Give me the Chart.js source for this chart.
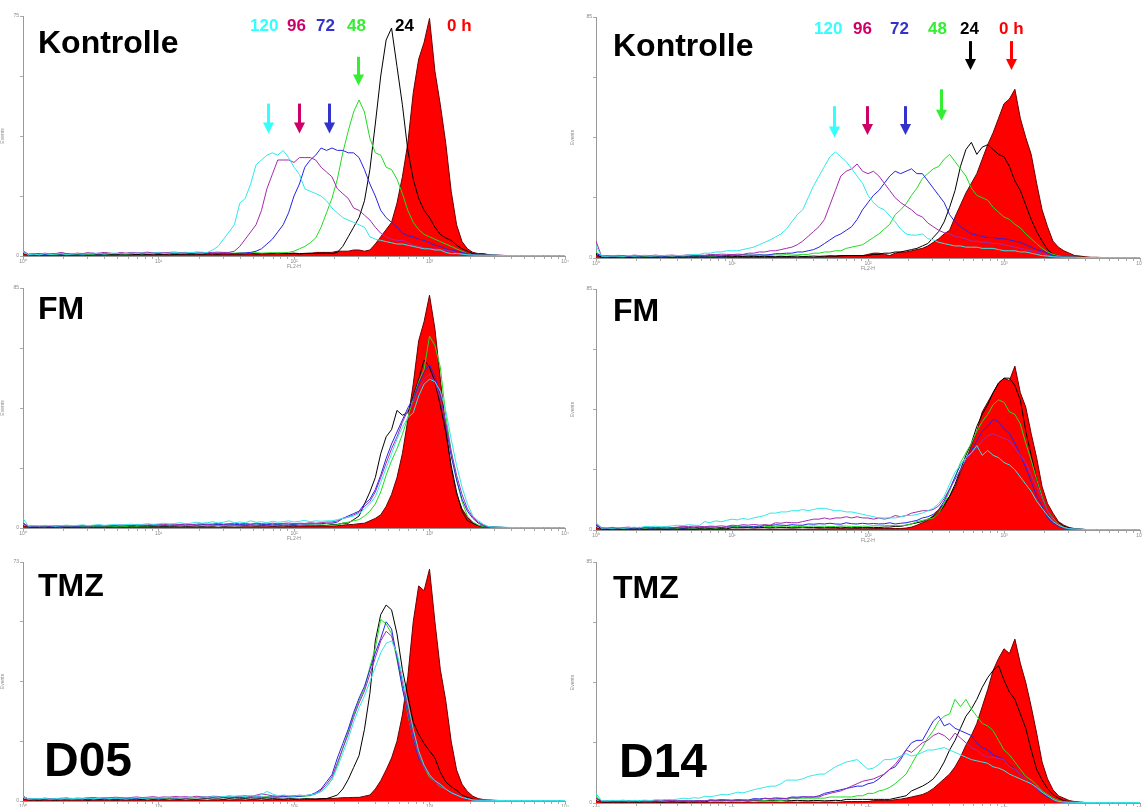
<!DOCTYPE html>
<html>
<head>
<meta charset="utf-8">
<script src="https://cdn.jsdelivr.net/npm/chart.js@4.4.1/dist/chart.umd.min.js"></script>
<style>
  html, body { margin: 0; padding: 0; background: #fff; overflow: hidden; }
  body { width: 1142px; height: 807px; position: relative; font-family: "Liberation Sans", Arial, sans-serif; }
  canvas { position: absolute; }
  .lbl { position: absolute; font-weight: bold; line-height: 1; white-space: nowrap; }
</style>
</head>
<body>
<script>
// histogram channels: one value every BIN decades of FL2-H, 0 .. 4 decades
const BIN = 0.04;
const xTickLabels = ["10⁰", "10¹", "10²", "10³", "10⁴"];
const timeLabels = ["120", "96", "72", "48", "24", "0 h"];
const panelNames = ["Kontrolle", "Kontrolle", "FM", "FM", "TMZ", "TMZ"];
const lineNames = ["D05", "D14"];
const yTopLabels = ["75", "85", "85", "85", "73", "85"];

// ---- Kontrolle, D05 ----
const tlCyan = [2,0.5,0.8,0.5,1,0.6,0.8,1,0.6,0.8, 1,0.7,1,0.8,1.2,0.8,1,1.2,0.9,1, 1.2,1,1.3,1,1.2,1.4,1,1.2,1.5,1.2, 1.3,1.5,1.4,1.2,1.5,2.5,4,7,10,13, 22,24,30,38,40,42,43,42,44,41, 37,34,28,27,26,25,23,20,18,16, 15,14,13,12,8,7,6.5,6,5.5,5, 5,4.5,4,3.5,3,3,2.5,2.5,1.5,1, 1,0.8,0.5,0.4,0.3,0.3,0.3,0.3,0.2,0.2, 0.2,0.2,0.2,0.2,0.2,0.2,0.2,0.2,0.2,0.2,0.2];
const tlMagenta = [2,0.8,1,0.6,1.2,0.8,1,1.5,1,0.8, 1.2,1,1.4,1,1.2,1.5,1.2,1,1.4,1.2, 1.5,1.2,1.4,1.6,1.2,1.5,1.3,1.5,1.6,1.4, 1.5,1.4,1.6,1.5,1.4,1.5,1.6,1.5,1.5,2, 4,7,10,13,19,28,34,40,40,40, 39,41,41,41,40,37,35,33,28,26, 24,20,19,17,15,12,9.5,8,7,6.5, 6.5,5.5,4.5,4,3.5,3,3,2.5,2.5,2, 1.2,1,0.5,0.4,0.3,0.3,0.3,0.3,0.3,0.2, 0.2,0.2,0.2,0.2,0.2,0.2,0.2,0.2,0.2,0.2,0.2];
const tlBlue = [2,0.6,0.8,1,0.6,0.8,1,0.8,1,0.7, 1,0.8,1,1.2,0.8,1,1.1,0.9,1.2,1, 1,1.2,1,1.1,1.3,1,1.2,1,1.3,1.1, 1.2,1,1.3,1.2,1,1.2,1.1,1.3,1.2,1, 1.2,1.3,1.5,2,3,5,7,10,13,18, 25,30,37,40,42,45,44,45,44,44, 43,43,41,36,30,25,19,16,14,12, 9.5,8.5,8,7,6.5,5.5,4.5,4,3,2.5, 2,1.5,1,0.5,0.4,0.3,0.3,0.3,0.2,0.2, 0.2,0.2,0.2,0.2,0.2,0.2,0.2,0.2,0.2,0.2,0.2];
const tlGreen = [2,0.5,0.7,0.5,0.8,0.6,0.7,0.9,0.6,0.8, 0.8,1,0.7,0.9,1,0.8,1,0.9,1.1,0.8, 1,1.1,0.9,1.2,1,1.1,1,1.2,1,1.1, 1.2,1,1.1,1.2,1,1.1,1.2,1.3,1.1,1.2, 1.3,1.2,1.3,1.4,1.2,1.3,1.4,1.3,1.4,1.5, 2,3,4,5.5,7.5,12,18,24,32,43, 52,60,65,60,49,43,42,37,36,32, 26,19,14,11,9,8,7,6,5,4, 3,2,1,0.5,0.4,0.3,0.3,0.3,0.2,0.2, 0.2,0.2,0.2,0.2,0.2,0.2,0.2,0.2,0.2,0.2,0.2];
const tlBlack = [2,0.5,0.6,0.4,0.6,0.5,0.7,0.5,0.6,0.5, 0.6,0.7,0.5,0.6,0.8,0.6,0.7,0.6,0.8,0.7, 0.8,0.6,0.8,0.7,0.9,0.7,0.8,0.9,0.7,0.8, 0.9,0.8,1,0.8,0.9,1,0.8,1,0.9,1, 0.9,1,1.1,0.9,1,1.1,1,1.2,1,1.1, 1.2,1,1.1,1.2,1,1.1,1.2,1,1.5,4, 8,12,16,23,36,55,75,90,95,79, 63,44,32,24,19,16,12,9,7.5,6.5, 4.5,3,2,1,0.5,0.4,0.3,0.3,0.2,0.2, 0.2,0.2,0.2,0.2,0.2,0.2,0.2,0.2,0.2,0.2,0.2];
const tlRed = [1,0.3,0.4,0.3,0.4,0.3,0.4,0.5,0.3,0.4, 0.4,0.5,0.4,0.5,0.4,0.5,0.5,0.4,0.6,0.5, 0.5,0.6,0.5,0.6,0.5,0.6,0.7,0.5,0.6,0.7, 0.6,0.7,0.6,0.7,0.8,0.6,0.7,0.8,0.7,0.8, 0.7,0.8,0.9,0.8,0.9,0.8,1,0.9,1,0.9, 1,0.8,1,1,1.5,1.5,1.5,1.5,2,2, 2,2.5,2.5,2,2.5,5,8,11,14,22, 33,47,68,82,89,99,77,63,47,27, 13,6,3,1.5,1,1,0.5,0.3,0.3,0.2, 0.2,0.2,0.2,0.2,0.2,0.2,0.2,0.2,0.2,0.2,0.2];

// ---- Kontrolle, D14 ----
const trCyan = [5,0.8,0.7,0.9,0.8,0.7,1,0.8,0.9,1, 0.8,1,0.9,1.1,0.9,1,1,1.2,1.5,1.5, 2,2,2.5,2.5,3,3,3,3.5,4,4.5, 5.5,6.5,7.5,8.7,10,12,15,18,20,25, 30,34,38,42,44,42,40,37,34,31, 26,23,21,20,17.5,15,12,10,9.5,9.5, 10,8,7.5,6.5,6,5.5,5,5,4.5,4.5, 4.5,4,4,4,3.5,3,3,3,2.5,2.5, 2,1.5,1,0.8,0.5,0.4,0.3,0.3,0.3,0.2, 0.2,0.2,0.2,0.2,0.2,0.2,0.2,0.2,0.2,0.2,0.2];
const trMagenta = [7,0.8,1,0.9,1.1,1,0.8,1.2,1,1.1, 1,1.2,0.9,1.1,1.2,1,1.1,1.3,1,1.2, 1.1,1.5,1.4,1.6,1.5,1.4,1.6,1.5,2,2, 2.5,2.5,3,3,3.5,4,4.5,5.5,7,9, 11,13,16,22,28,34,36,37,39,36, 35,36,34,31,28,25,23,21.5,20,18, 17,14.5,13,11.5,10.5,10,9,8.5,8,7, 7,6.5,6.5,6,6,5.5,5,4.5,4,3.5, 3,2.5,2,1.2,0.7,0.4,0.3,0.3,0.3,0.2, 0.2,0.2,0.2,0.2,0.2,0.2,0.2,0.2,0.2,0.2,0.2];
const trBlue = [2,0.8,0.7,0.9,0.8,1,0.7,0.9,0.8,1, 0.8,0.9,0.7,0.8,1,0.8,0.9,0.8,1,0.9, 0.8,1,0.9,0.8,1,1.2,1.1,1.3,1.2,1.2, 1.3,1.2,1.4,1.8,1.8,2,2,2.5,2.5,3, 3.5,4.5,6,7.5,9,10,11.5,13,16,20, 23,26,28,31,34,36,35,36,37,35, 35,32,29,26,23,18,15,13,11.5,10, 9.5,9,8.5,8.5,8,8,7.5,7,6.5,5.5, 4.5,3.5,3,2,1,0.5,0.4,0.3,0.3,0.2, 0.2,0.2,0.2,0.2,0.2,0.2,0.2,0.2,0.2,0.2,0.2];
const trGreen = [2.5,0.8,0.7,0.9,0.8,0.7,0.9,0.8,1,0.8, 0.9,0.8,1,0.8,0.9,1,0.8,0.9,1,0.9, 1,0.8,0.9,1,1,1.2,1.1,1.3,1.2,1.1, 1.3,1.2,1.1,1.3,1.2,1.4,1.2,1.3,1.5,1.5, 2,2,2.5,2.5,3,3,4,4.5,5,5.5, 7,8.5,10,12,14,18,20,22.5,26,29, 33,35,37,38,41,43,40,37,34,29, 26,25,24,21,19,17,16,14,12.5,10, 8,6,4,2.5,1.5,1,0.5,0.4,0.3,0.3, 0.2,0.2,0.2,0.2,0.2,0.2,0.2,0.2,0.2,0.2,0.2];
const trBlack = [1.5,0.4,0.5,0.4,0.5,0.6,0.4,0.5,0.6,0.5, 0.4,0.5,0.6,0.5,0.4,0.6,0.5,0.6,0.5,0.6, 0.5,0.6,0.5,0.7,0.6,0.5,0.7,0.6,0.5,0.7, 0.6,0.7,0.6,0.5,0.7,0.6,0.7,0.8,0.6,0.7, 0.8,0.7,0.8,0.9,0.8,0.9,1,1,1,1, 1,1.5,1.5,2,2,2.5,2.5,3,3.5,4, 5,6,8.5,11,15,21,28,38,45,48, 43,46,47,45,43,42,38,32,28,22, 16,11,7,3.5,1.5,1,0.5,0.4,0.3,0.3, 0.2,0.2,0.2,0.2,0.2,0.2,0.2,0.2,0.2,0.2,0.2];
const trRed = [1,0.3,0.3,0.2,0.3,0.3,0.2,0.3,0.3,0.3, 0.3,0.2,0.3,0.3,0.3,0.2,0.3,0.3,0.3,0.3, 0.3,0.3,0.3,0.4,0.3,0.3,0.4,0.3,0.4,0.3, 0.4,0.3,0.4,0.4,0.3,0.4,0.4,0.3,0.4,0.4, 0.3,0.5,0.5,0.8,0.8,1,1,1,1,1, 1.5,2,2,1.5,1,2,2.5,2.5,3,3.5, 4,5,6.5,8,10,11.5,17,22,27,31, 35,41,47,52,58,64,66,70,58,50, 43,31,20,13,7,4.5,3,2,1,0.8, 0.5,0.3,0.3,0.2,0.2,0.2,0.2,0.2,0.2,0.2,0.2];

// ---- FM, D05 ----
const mlCyan = [4,0.8,1,0.9,1.1,1,0.8,1,1.2,1, 1.1,1.3,1,1.2,1.4,1.1,1.3,1.5,1.2,1.4, 1.6,1.3,1.5,1.8,1.5,1.7,2,1.6,1.9,2.2, 1.8,2,2.4,2,2.2,2.6,2.1,2.4,3,2.2, 2.5,2.2,3,2.4,2.6,2.2,2.8,2.4,2.6,3, 2.5,2.8,3.2,2.6,3,2.8,3,3,3.5,4, 4.5,5,6,8,10,13,19,25,31,37, 42,46,48,55,60,62,61,57,49,37, 26,17,10,5,3,1.5,0.5,0.4,0.3,0.3, 0.2,0.2,0.2,0.2,0.2,0.2,0.2,0.2,0.2,0.2,0.2];
const mlMagenta = [2,0.8,0.9,0.7,1,0.8,0.9,1,0.8,1, 0.9,1.1,0.8,1,1.2,0.9,1.1,1,1.3,1, 1.2,1.4,1.1,1.3,1.5,1.2,1.4,1.6,1.3,1.5, 1.7,1.4,1.6,1.8,1.5,1.7,1.9,1.6,1.8,2, 1.7,1.9,1.6,2,1.8,1.7,2,1.8,1.9,2.1, 1.8,2,1.9,2.2,2,2.2,2.5,2.5,3,4, 4.5,5.5,6.5,9,11,15,21,27,33,38, 44,49,52,58,62,64,61,54,44,32, 22,14,8,4.5,2.5,1.2,0.4,0.3,0.3,0.2, 0.2,0.2,0.2,0.2,0.2,0.2,0.2,0.2,0.2,0.2,0.2];
const mlBlue = [2,0.6,0.8,0.7,0.9,0.6,0.8,0.7,0.9,0.8, 0.7,0.9,0.8,1,0.8,0.9,1.1,0.9,1,1.2, 1,1.1,1.3,1,1.2,1.4,1.1,1.3,1.2,1.4, 1.3,1.5,1.2,1.4,1.6,1.3,1.5,1.4,1.6,1.5, 1.4,1.6,1.5,1.7,1.5,1.4,1.6,1.5,1.7,1.6, 1.5,1.7,1.6,1.8,1.7,1.8,2,2,2.5,4, 5,6,7,10,12,16,22,29,35,40, 45,50,54,60,65,68,63,55,43,30, 20,12,7,4,2,1,0.4,0.3,0.3,0.2, 0.2,0.2,0.2,0.2,0.2,0.2,0.2,0.2,0.2,0.2,0.2];
const mlGreen = [2,0.5,0.7,0.6,0.5,0.7,0.6,0.5,0.7,0.6, 0.6,0.7,0.5,0.8,0.6,0.7,0.9,0.6,0.8,0.7, 0.9,0.7,1,0.8,1,1.1,0.9,1.1,1,1.2, 1,1.2,1.1,1.3,1.1,1.2,1,1.3,1.2,1.1, 1.2,1.3,1.1,1.2,1.3,1.2,1.1,1.3,1.2,1.2, 1.3,1.1,1.2,1.3,1.2,1.3,1.2,1.2,1.3,2, 2.5,3,3.5,5,7,10,15,22,28,33, 39,46,54,61,66,80,76,67,47,32, 20,11,5,2.5,1.2,0.5,0.4,0.3,0.3,0.2, 0.2,0.2,0.2,0.2,0.2,0.2,0.2,0.2,0.2,0.2,0.2];
const mlBlack = [2,0.4,0.5,0.6,0.4,0.5,0.6,0.5,0.4,0.6, 0.5,0.6,0.5,0.7,0.5,0.6,0.5,0.7,0.6,0.5, 0.7,0.6,0.8,0.6,0.7,0.8,0.6,0.8,0.7,0.9, 0.7,0.8,0.9,0.7,0.9,0.8,1,0.8,0.9,1, 0.9,1,1.1,0.9,1,1.1,1,0.9,1.1,1, 1,1.1,1,1.2,1,1.1,1,1.5,1.5,2, 2,3.5,5,10,15,21,31,38,41,49, 47,48,55,62,70,67,61,51,40,26, 15,7,3,2,1,0.4,0.3,0.3,0.2,0.2, 0.2,0.2,0.2,0.2,0.2,0.2,0.2,0.2,0.2,0.2,0.2];
const mlRed = [1,0.3,0.3,0.2,0.3,0.3,0.2,0.3,0.3,0.2, 0.3,0.3,0.3,0.2,0.3,0.3,0.3,0.3,0.3,0.3, 0.3,0.3,0.4,0.3,0.3,0.4,0.3,0.4,0.3,0.4, 0.3,0.4,0.4,0.3,0.4,0.4,0.3,0.4,0.4,0.4, 0.4,0.5,0.5,0.5,0.5,0.5,0.6,0.5,0.5,0.6, 0.5,0.8,0.8,0.8,0.8,0.8,0.8,0.8,1,1.2, 1.4,1.5,1.8,2,3,4,5.5,9,14,21, 31,45,60,78,86,97,83,62,42,25, 14,8,4.5,2,1,0.7,0.3,0.3,0.2,0.2, 0.2,0.2,0.2,0.2,0.2,0.2,0.2,0.2,0.2,0.2,0.2];

// ---- FM, D14 ----
const mrCyan = [3,0.8,0.9,0.7,1,0.8,0.9,1.2,0.9,1.5, 1.4,1.6,1.3,1.5,1.7,2,1.8,2.2,2,1.9, 3.5,3,3.8,3.4,4,4.5,4.2,4.8,4.4,5, 5.5,6,7,7,7.5,7.5,8,8,8.5,8, 8.5,9,9,8.5,8,8,7.5,7.5,7,6.5, 6,5.5,5,5,5,5,5.5,6,6,6.5, 7,8,9,11,14,19,24,27,30,32, 35,31,33,31,30,28,27,25,22,19, 16,12,9,6,3.5,2,1,0.5,0.4,0.3, 0.2,0.2,0.2,0.2,0.2,0.2,0.2,0.2,0.2,0.2,0.2];
const mrMagenta = [2.5,1,0.8,1.1,0.9,1,1.2,0.9,1.1,1, 1.2,1,1.1,1.3,1,1.2,1.5,1.4,1.6,1.5, 1.4,1.6,1.5,1.7,1.5,2,1.8,2.2,2,2.3, 2,2.2,2,3,2.8,3.2,3,3,3.5,4, 4.5,4.5,5,4.5,5,5,5.5,5,5.5,5, 5,4.5,5,4.5,5,6,5.5,6,7,7.5, 8,8,8.5,10,13,17,21,25,29,32, 34,37,39,40,39,38,37,34,31,28, 23,18,13,8,4,2,1,0.5,0.4,0.3, 0.2,0.2,0.2,0.2,0.2,0.2,0.2,0.2,0.2,0.2,0.2];
const mrBlue = [2,0.8,0.7,0.9,0.8,1,0.7,0.9,0.8,1, 0.8,0.9,1,0.8,0.9,1,0.8,1,0.9,1.2, 1.1,1.3,1.2,1,1.3,1.2,1.1,1.3,1.2,1.4, 1.2,2,1.8,2.2,2,1.9,2.2,2,2,2.5, 2.4,2.6,2.5,2.8,2.5,2.4,3,2.6,2.5,2.8, 2.5,2.7,2.5,2.6,3,2.5,2.8,3,3.5,4, 5,5.5,6.5,8.5,12,17,22,27,30,33, 37,41,43,46,45,42,40,36,31,26, 20,14,10,5,3,1.5,0.8,0.4,0.3,0.3, 0.2,0.2,0.2,0.2,0.2,0.2,0.2,0.2,0.2,0.2,0.2];
const mrGreen = [3,0.8,0.7,0.9,0.8,0.7,0.9,0.8,1,0.8, 0.9,0.8,1,0.7,0.9,0.8,1,0.9,0.8,1, 0.9,1,0.8,1,0.9,1.5,1.4,1.6,1.5,1.4, 1.6,1.5,1.4,1.6,1.5,1.7,1.5,1.4,1.6,1.5, 1.7,1.5,1.6,1.4,1.5,1.7,1.6,1.5,1.4,1.6, 1.5,1.8,1.7,1.8,1.9,1.8,1.8,2,2.5,3.5, 4,4.5,5,7,11,16,22,28,32,36, 41,45,48,52,54,53,49,48,44,36, 29,21,14,8,5,2.5,1.2,0.5,0.4,0.3, 0.2,0.2,0.2,0.2,0.2,0.2,0.2,0.2,0.2,0.2,0.2];
const mrBlack = [2,0.5,0.4,0.6,0.5,0.4,0.6,0.5,0.6,0.4, 0.5,0.6,0.5,0.4,0.6,0.5,0.6,0.5,0.4,0.6, 0.5,0.6,0.5,0.6,0.5,1,0.9,1.1,1,0.9, 1.1,1,0.9,1.2,1,1.1,0.9,1,1.2,1, 1.1,1,0.9,1.1,1,1.2,1,0.9,1.1,1, 1,1.1,1,1.2,1.2,1.5,1.5,2,2.5,3, 3.5,4.5,5.5,7,10,14,19,25,31,36, 43,48,52,57,61,63,63,60,54,41, 31,21,14,8,5,3,1.5,0.8,0.4,0.3, 0.2,0.2,0.2,0.2,0.2,0.2,0.2,0.2,0.2,0.2,0.2];
const mrRed = [1,0.3,0.3,0.2,0.3,0.3,0.2,0.3,0.3,0.3, 0.3,0.2,0.3,0.3,0.3,0.3,0.2,0.3,0.3,0.3, 0.3,0.3,0.3,0.3,0.4,0.3,0.3,0.4,0.3,0.4, 0.4,0.3,0.4,0.4,0.3,0.4,0.4,0.4,0.3,0.4, 0.4,0.5,0.4,0.5,0.5,0.6,0.5,0.5,0.6,0.5, 0.5,0.6,0.6,0.6,0.6,0.6,0.6,0.8,1.2,2, 3,4,6,8.5,11,14,18,24,29,35, 41,49,53,57,61,63,62,68,57,51, 40,30,18,11,7,3.5,2,1,0.6,0.3, 0.2,0.2,0.2,0.2,0.2,0.2,0.2,0.2,0.2,0.2,0.2];

// ---- TMZ, D05 ----
const blCyan = [2,0.8,1,0.9,1.1,0.8,1,1.2,0.9,1, 1.1,0.9,1.2,1,1.1,1.3,1,1.2,1.1,1.3, 1.2,1.4,1.1,1.3,1.5,1.2,1.4,1.6,1.3,1.5, 1.4,1.6,1.3,1.7,1.5,1.8,1.6,1.9,1.7,2, 2.2,1.8,2.4,2,2.6,4,3,2.2,2.5,2.2, 2,2.4,2.2,2.6,3,4,6,9,14,20, 26,33,39,44,50,56,62,66,67,62, 52,41,30,21,15,11,8.5,7,5,3.5, 2.5,1.5,1,0.4,0.3,0.3,0.3,0.2,0.2,0.2, 0.2,0.2,0.2,0.2,0.2,0.2,0.2,0.2,0.2,0.2,0.2];
const blMagenta = [2,0.8,1,0.9,1.2,1,0.9,1.1,1.3,1, 1.2,1.1,1.3,1.5,1.2,1.4,1.3,1.6,1.4,1.3, 1.5,1.7,1.4,1.6,1.8,1.5,1.7,1.6,1.9,1.7, 1.8,1.6,2,1.8,1.7,2,1.9,1.8,2.1,1.9, 2,2.2,1.9,2.4,3,2.6,2.2,2,2.3,2.1, 2.2,2.4,2.3,2.5,3,4.5,7,10,16,22, 28,35,41,46,53,60,67,71,69,61, 50,38,27,19,14,11,8,6.5,5,3.5, 2.5,1.5,1,0.4,0.3,0.3,0.3,0.2,0.2,0.2, 0.2,0.2,0.2,0.2,0.2,0.2,0.2,0.2,0.2,0.2,0.2];
const blBlue = [2,0.8,0.9,0.7,1,0.8,0.9,1,0.8,1.1, 0.9,1,1.2,0.9,1.1,1,1.2,1.1,1.3,1, 1.2,1.1,1.3,1.2,1.4,1.1,1.3,1.5,1.2,1.4, 1.3,1.5,1.4,1.6,1.3,1.5,1.7,1.4,1.6,1.5, 1.4,1.7,1.5,1.8,1.6,1.5,1.8,1.6,2,1.7, 1.8,2,2.2,2.5,3.5,5,8,11,18,24, 30,37,43,48,55,62,68,75,72,60, 47,37,26,18,14,11,8,6.5,5,3.5, 2.5,1.5,1,0.4,0.3,0.3,0.3,0.2,0.2,0.2, 0.2,0.2,0.2,0.2,0.2,0.2,0.2,0.2,0.2,0.2,0.2];
const blGreen = [2,0.6,0.8,0.7,0.9,0.7,0.8,0.6,0.9,0.8, 0.7,0.9,1,0.8,1,0.9,1.1,0.9,1,1.2, 1,1.1,1.3,1,1.2,1.3,1.1,1.4,1.2,1.3, 1.5,1.3,1.4,1.6,1.3,1.5,1.4,1.6,1.5,1.4, 1.6,1.5,1.7,1.5,1.6,1.8,1.5,1.7,1.6,1.8, 1.7,1.9,2,2.2,3,4,6,9,15,22, 29,36,42,47,56,64,76,74,70,59, 48,36,26,19,14,10,8,6,5,3.5, 2.5,1.5,1,0.4,0.3,0.3,0.3,0.2,0.2,0.2, 0.2,0.2,0.2,0.2,0.2,0.2,0.2,0.2,0.2,0.2,0.2];
const blBlack = [2,0.5,0.6,0.5,0.7,0.6,0.5,0.7,0.6,0.8, 0.6,0.7,0.5,0.8,0.6,0.7,0.8,0.6,0.7,0.9, 0.7,0.8,0.6,0.9,0.7,0.8,0.7,0.9,0.8,0.7, 0.9,0.8,0.7,0.9,1,0.8,0.9,0.7,1,0.8, 0.9,1,0.8,0.9,1,0.8,1,0.9,0.8,1, 0.9,0.8,1,0.9,0.8,0.9,1,1.7,2.5,5, 9,14,19,30,45,67,78,82,80,70, 55,44,33,28,24,21,18,12,8,6, 4.5,2.5,1.5,0.8,0.4,0.3,0.3,0.2,0.2,0.2, 0.2,0.2,0.2,0.2,0.2,0.2,0.2,0.2,0.2,0.2,0.2];
const blRed = [1,0.3,0.3,0.2,0.3,0.3,0.2,0.3,0.3,0.3, 0.3,0.3,0.2,0.3,0.3,0.3,0.3,0.2,0.3,0.3, 0.3,0.4,0.3,0.3,0.4,0.3,0.4,0.3,0.4,0.4, 0.3,0.4,0.4,0.4,0.3,0.4,0.4,0.5,0.4,0.4, 0.5,0.4,0.5,0.5,0.4,0.5,0.5,0.6,0.5,0.5, 0.6,0.5,0.6,0.8,0.8,1,1,1,1.2,1.4, 1.4,1.5,1.5,2,2.5,5,8.5,13,18,25, 36,52,75,90,88,97,75,55,42,25, 13,7,4,2,1,0.6,0.3,0.3,0.2,0.2, 0.2,0.2,0.2,0.2,0.2,0.2,0.2,0.2,0.2,0.2,0.2];

// ---- TMZ, D14 ----
const brCyan = [4,1,0.9,1.1,1,1.2,0.9,1.1,1,1.2, 1,1.4,1.3,1.5,1.4,1.6,2,1.8,2.2,2, 2.8,2.6,3,3.5,3.4,3.8,4.5,4.2,4.8,5.5, 6,6.5,7,7,8,9.5,9.5,9.5,10,11, 11.5,12,12,13.5,15,16,17,17.5,18,16, 14,14.5,16,18,18,18.5,19.5,20.5,19.5,20, 21,22,22,22.5,23,22,21,20,19,18, 17.5,17,16.5,15,14.5,13.5,12,11,10,9, 8,6.5,4.5,3,1.5,0.6,0.4,0.3,0.3,0.2, 0.2,0.2,0.2,0.2,0.2,0.2,0.2,0.2,0.2,0.2,0.2];
const brMagenta = [2,0.8,0.9,0.7,1,0.8,0.9,0.7,1,0.8, 0.9,1,0.8,0.9,1,0.8,1,0.9,0.8,1, 0.9,1.2,1.1,1.3,1.2,1.1,1.3,1.2,1.1,1.3, 1.2,2,1.8,2.2,2,1.9,2.2,2,2.5,2.5, 2.5,2.5,3.4,4,4.5,5,6,7,8,9, 9.5,10,11,12,14,16,19,22,21,23, 25,26,28,29,28,26,29,27,25,23, 22,20,19,19,18.5,18,15,14,12,10, 8,6,4.5,3,1.5,0.6,0.4,0.3,0.3,0.2, 0.2,0.2,0.2,0.2,0.2,0.2,0.2,0.2,0.2,0.2,0.2];
const brBlue = [2,0.8,0.7,0.9,0.8,0.7,0.9,0.8,1,0.8, 0.9,0.7,0.8,1,0.8,0.9,0.7,0.9,0.8,1, 0.8,1.2,1.1,1.3,1.2,1.1,1.3,1.2,1.2,1.8, 1.7,1.9,1.8,1.7,1.9,1.8,2.5,2.4,2.6,2.5, 2.5,3,4,4.5,5,5.5,6,6.5,7,7, 8,8.5,10,12,14,15,18,22,25,26, 26,30,34,36,32,33,31,30,29,28, 25,23,22,20,19,18,16,14,12,10, 8,6,4,2.5,1.4,0.6,0.4,0.3,0.3,0.2, 0.2,0.2,0.2,0.2,0.2,0.2,0.2,0.2,0.2,0.2,0.2];
const brGreen = [3,0.8,0.7,0.9,0.8,0.7,0.9,0.8,1,0.7, 0.8,0.9,0.7,0.8,1,0.8,0.9,0.7,0.9,0.8, 0.9,1.2,1.1,1.3,1.2,1.1,1.3,1.2,1.1,1.3, 1.2,1.1,1.3,1.2,1.1,1.3,2,2,2,2, 2,2,2,2.5,2.5,2.5,2.5,2.5,3,3, 4,4,5,5.5,6.5,8,10,12,16,20, 23,27,30,34,36,37,43,40,43,39, 36,33,32,30,26,22,20,17,14,11, 9.5,7.5,5,3.5,2,1,0.5,0.4,0.3,0.3, 0.2,0.2,0.2,0.2,0.2,0.2,0.2,0.2,0.2,0.2,0.2];
const brBlack = [2,0.5,0.4,0.6,0.5,0.4,0.6,0.5,0.4,0.6, 0.5,0.6,0.4,0.5,0.6,0.5,0.4,0.6,0.5,0.6, 0.5,1,0.9,1.1,1,0.9,1.1,1,0.9,1.1, 1,0.9,1.1,1,1.2,0.9,1,1.1,1,0.9, 1.1,1,0.9,1,1.1,1,1.5,1.5,1.5,1.5, 1.5,1.5,1.5,1.5,1.5,2,2.5,3,5,6, 7,8.3,10,13,17,22,26,31,36,39, 43,48,52,55,57,51,46,43,37,31, 22,14,9.5,6,3.5,2,1,0.5,0.4,0.3, 0.2,0.2,0.2,0.2,0.2,0.2,0.2,0.2,0.2,0.2,0.2];
const brRed = [1,0.3,0.3,0.2,0.3,0.3,0.2,0.3,0.3,0.3, 0.3,0.2,0.3,0.3,0.3,0.3,0.2,0.3,0.3,0.3, 0.3,0.3,0.3,0.4,0.3,0.3,0.4,0.3,0.4,0.3, 0.4,0.3,0.4,0.4,0.3,0.4,0.4,0.3,0.4,0.4, 0.4,0.3,0.4,0.4,0.3,0.4,0.6,0.6,0.6,0.6, 0.6,1,1,1,1,1.4,1.6,2,2.5,3, 3.5,4.5,6,8,10,12,15,19,24,28, 33,40,47,55,60,64,62,68,58,50, 40,29,17,10,5.5,3,2,1,0.6,0.3, 0.2,0.2,0.2,0.2,0.2,0.2,0.2,0.2,0.2,0.2,0.2];

// arrows: position in decades, shaft top and tip in % of axis height
const tlArrowX = [1.81, 2.04, 2.26, 2.47];
const tlArrowTop = [63.5, 63.5, 63.5, 83];
const tlArrowTip = [51, 51, 51, 71];
const trArrowX = [1.75, 1.99, 2.27, 2.54, 2.75, 3.05];
const trArrowTop = [63, 63, 63, 70, 90, 90];
const trArrowTip = [50, 51, 51, 57, 78, 78];

const LINE_COLORS = { red: "#ff0000", black: "#000000", green: "#1fdc1f", blue: "#2424e8", magenta: "#a52aac", cyan: "#30e8e8" };
const MARK_COLORS = ["#33ffff", "#cc0066", "#3333cc", "#33ee33", "#000000", "#ff0000"];
const PAD_T = 8, PAD_R = 5, X_H = 14;

const panels = [
  { box: [23, 16, 542, 240], yw: 23, series: [tlRed, tlBlack, tlGreen, tlBlue, tlMagenta, tlCyan], arrows: [tlArrowX, tlArrowTop, tlArrowTip] },
  { box: [596, 17, 544, 241], yw: 26, series: [trRed, trBlack, trGreen, trBlue, trMagenta, trCyan], arrows: [trArrowX, trArrowTop, trArrowTip] },
  { box: [23, 288, 542, 240], yw: 23, series: [mlRed, mlBlack, mlGreen, mlBlue, mlMagenta, mlCyan] },
  { box: [596, 289, 544, 241], yw: 26, series: [mrRed, mrBlack, mrGreen, mrBlue, mrMagenta, mrCyan] },
  { box: [23, 562, 542, 239], yw: 23, series: [blRed, blBlack, blGreen, blBlue, blMagenta, blCyan] },
  { box: [596, 562, 544, 241], yw: 26, series: [brRed, brBlack, brGreen, brBlue, brMagenta, brCyan] },
];

const seriesKeys = ["red", "black", "green", "blue", "magenta", "cyan"];
const points = (ys) => ys.map((y, i) => ({ x: i * BIN, y }));

function xTicks() {
  const t = [];
  for (let d = 0; d < 4; d++) for (let k = 1; k < 10; k++) t.push(d + Math.log10(k));
  t.push(4);
  return t.map((value) => ({ value }));
}

function arrowPlugin(arrows) {
  return {
    id: "arrows",
    afterDatasetsDraw(chart) {
      if (!arrows) return;
      const { ctx, scales: { x, y } } = chart;
      const [xs, tops, tips] = arrows;
      ctx.save();
      xs.forEach((v, i) => {
        const px = Math.round(x.getPixelForValue(v)) + 0.5;
        const y0 = y.getPixelForValue(tops[i]);
        const y1 = y.getPixelForValue(tips[i]);
        ctx.strokeStyle = MARK_COLORS[i];
        ctx.fillStyle = MARK_COLORS[i];
        ctx.lineWidth = 3;
        ctx.beginPath(); ctx.moveTo(px, y0); ctx.lineTo(px, y1 - 9); ctx.stroke();
        ctx.beginPath(); ctx.moveTo(px - 5.5, y1 - 11); ctx.lineTo(px + 5.5, y1 - 11); ctx.lineTo(px, y1); ctx.closePath(); ctx.fill();
      });
      ctx.restore();
    }
  };
}

function makePanel(p, idx) {
  const [left, top, w, h] = p.box;
  const cv = document.createElement("canvas");
  cv.width = p.yw + w + PAD_R;
  cv.height = PAD_T + h + X_H;
  cv.style.left = `${left - p.yw}px`;
  cv.style.top = `${top - PAD_T}px`;
  document.body.appendChild(cv);

  const datasets = p.series.map((ys, i) => {
    const key = seriesKeys[i];
    const filled = key === "red";
    return {
      label: key,
      data: points(ys),
      borderColor: filled ? "#6a0000" : LINE_COLORS[key],
      backgroundColor: LINE_COLORS[key],
      borderWidth: 1,
      fill: filled ? "origin" : false,
      pointRadius: 0,
      tension: 0,
      order: p.series.length - i,
    };
  });

  const axisFont = { size: 5, family: "Liberation Sans" };
  new Chart(cv, {
    type: "line",
    data: { datasets },
    options: {
      responsive: false,
      animation: false,
      events: [],
      layout: { padding: { top: PAD_T, right: PAD_R, left: 0, bottom: 0 } },
      plugins: { legend: { display: false }, tooltip: { enabled: false } },
      scales: {
        x: {
          type: "linear", min: 0, max: 4,
          afterFit: (s) => { s.height = X_H; },
          afterBuildTicks: (s) => { s.ticks = xTicks(); },
          ticks: { autoSkip: false, maxRotation: 0, padding: 0, color: "#888", font: axisFont,
            callback: (v) => (Math.abs(v - Math.round(v)) < 1e-6 ? xTickLabels[Math.round(v)] : "") },
          grid: { drawOnChartArea: false, tickLength: 3, color: "#aaa" },
          border: { color: "#999" },
          title: { display: true, text: "FL2-H", color: "#888", font: axisFont, padding: 0 }
        },
        y: {
          min: 0, max: 100,
          afterFit: (s) => { s.width = p.yw; },
          afterBuildTicks: (s) => { s.ticks = [0, 25, 50, 75, 100].map((value) => ({ value })); },
          ticks: { padding: 1, color: "#888", font: axisFont,
            callback: (v) => (v === 0 ? "0" : v === 100 ? yTopLabels[idx] : "") },
          grid: { drawOnChartArea: false, tickLength: 3, color: "#aaa" },
          border: { color: "#999" },
          title: { display: true, text: "Events", color: "#888", font: axisFont, padding: 0 }
        }
      }
    },
    plugins: [arrowPlugin(p.arrows)]
  });
}

function addLabel(text, left, top, size, color) {
  const d = document.createElement("div");
  d.className = "lbl";
  d.textContent = text;
  Object.assign(d.style, { left: `${left}px`, top: `${top}px`, fontSize: `${size}px`, color });
  document.body.appendChild(d);
}

panels.forEach(makePanel);

const nameLeft = [38, 613, 38, 613, 38, 613];
const nameTop = [26, 29, 292, 294, 569, 571];
panelNames.forEach((t, i) => addLabel(t, nameLeft[i], nameTop[i], 32, "#000"));
addLabel(lineNames[0], 44, 736, 48, "#000");
addLabel(lineNames[1], 619, 737, 48, "#000");

const tlTimeLeft = [250, 287, 316, 347, 395, 447];
const trTimeLeft = [814, 853, 890, 928, 960, 999];
timeLabels.forEach((t, i) => {
  addLabel(t, tlTimeLeft[i], 17, 17, MARK_COLORS[i]);
  addLabel(t, trTimeLeft[i], 20, 17, MARK_COLORS[i]);
});
</script>
</body>
</html>
